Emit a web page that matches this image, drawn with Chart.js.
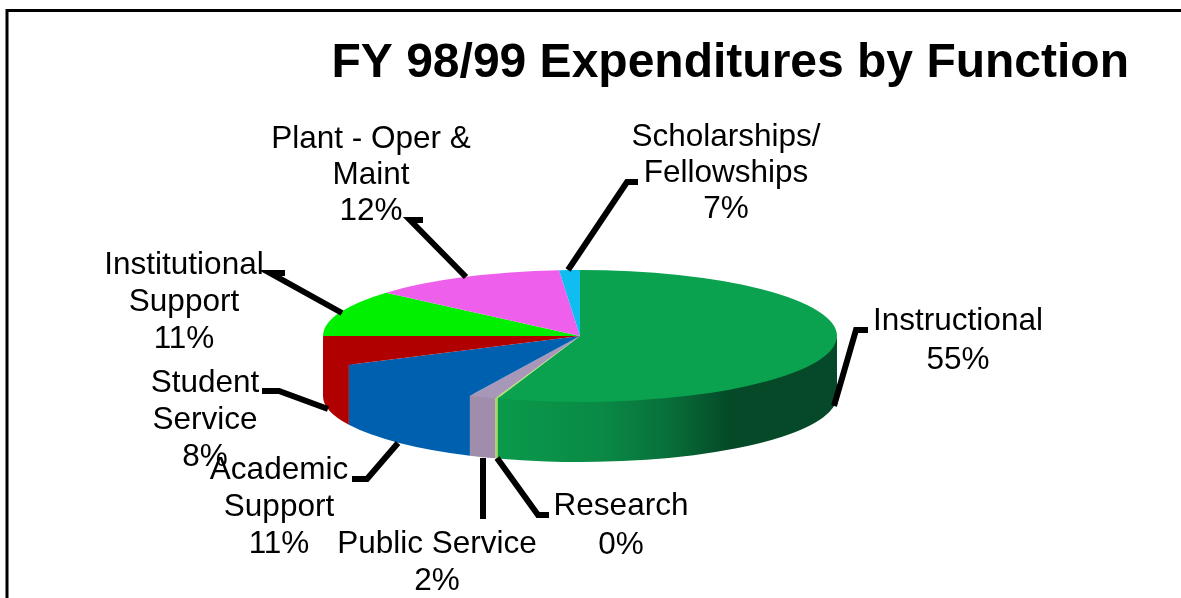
<!DOCTYPE html>
<html><head><meta charset="utf-8">
<style>html,body{margin:0;padding:0;background:#fff;overflow:hidden}#w{position:relative;width:1181px;height:598px}</style>
<script src="https://cdn.jsdelivr.net/npm/chart.js@4"></script>
</head><body><div id="w"><canvas id="c" width="1181" height="598"></canvas></div>
<script>
const titleText = "FY 98/99 Expenditures by Function";
const categories = ["Instructional","Research","Public Service","Academic Support","Student Service","Institutional Support","Plant - Oper & Maint","Scholarships/ Fellowships"];
// wedge sizes as drawn in the picture
const sliceValues = [55.2, 0.14, 1.7, 10.75, 7.2, 11.4, 12.3, 1.3];
// percentages as printed on the labels
const printedPercents = ["55%","0%","2%","11%","8%","11%","12%","7%"];
const labelLines = [["Instructional"],["Research"],["Public Service"],["Academic","Support"],["Student","Service"],["Institutional","Support"],["Plant - Oper &","Maint"],["Scholarships/","Fellowships"]];
const topColors = ["#0aa24e","#b4e05c","#a797b8","#0060b0","#b00000","#00f000","#ee60ec","#10bdf0"];
const wallColors = ["#0a9a4c","#a8d850","#a08cab","#0060b0","#b00000","#00c800","#c850c8","#10a0d0"];

const FONT = '"Liberation Sans", Arial, sans-serif';
const RX = 257, SQUASH = 66/257, DEPTH = 60;
// label anchor (centre x, first baseline) and leader polyline
const labelLayout = [
 {x:958,y:330,lh:39,leader:[[868,330],[856,330],[834,406]]},
 {x:621,y:515,lh:39,leader:[[549,515],[538,515],[497,458]]},
 {x:437,y:553,lh:37,leader:[[483,458],[483,519]]},
 {x:279,y:479,lh:37,leader:[[352,479],[367,479],[398,443]]},
 {x:205,y:392,lh:37,leader:[[262,391],[279,391],[328,409]]},
 {x:184,y:274,lh:37,leader:[[285,273],[270,273],[342,313]]},
 {x:371,y:148,lh:36,leader:[[423,220],[410,220],[466,277]]},
 {x:726,y:146,lh:36,leader:[[638,182],[627,182],[568,270]]}
];

const pie3d = {
  id:'pie3d',
  beforeDatasetsDraw(chart){
    const ctx = chart.ctx, arcs = chart.getDatasetMeta(0).data;
    const a0 = arcs[0];
    const cx = a0.x, cy = a0.y, r = a0.outerRadius, ry = r*SQUASH;
    ctx.save();
    arcs.forEach((arc,i)=>{
      let s = arc.startAngle, e = arc.endAngle;
      const s1 = Math.max(s,0), e1 = Math.min(e,Math.PI);
      if(e1<=s1) return;
      ctx.beginPath();
      ctx.ellipse(cx,cy-2,r,ry,0,s1,e1,false);
      ctx.ellipse(cx,cy+DEPTH,r,ry,0,e1,s1,true);
      ctx.closePath();
      if(i===0){
        const g = ctx.createLinearGradient(cx-83,0,cx+r,0);
        g.addColorStop(0,'#0a9a4c');g.addColorStop(0.3,'#0a8a45');g.addColorStop(0.5,'#08703a');
        g.addColorStop(0.68,'#054a28');g.addColorStop(1,'#05482a');
        ctx.fillStyle = g;
      } else ctx.fillStyle = wallColors[i];
      ctx.fill();
    });
    ctx.restore();
    ctx.save();
    ctx.translate(cx,cy);ctx.scale(1,SQUASH);ctx.translate(-cx,-cy);
  },
  afterDatasetsDraw(chart){
    const ctx = chart.ctx;
    ctx.restore();
    ctx.save();
    // frame
    ctx.strokeStyle='#000';ctx.lineWidth=3;
    ctx.beginPath();ctx.moveTo(7,598);ctx.lineTo(7,10.5);ctx.lineTo(1181,10.5);ctx.stroke();
    // leaders
    ctx.lineWidth=6;ctx.lineJoin='miter';ctx.lineCap='butt';
    labelLayout.forEach(l=>{
      ctx.beginPath();
      l.leader.forEach((p,k)=>k?ctx.lineTo(p[0],p[1]):ctx.moveTo(p[0],p[1]));
      ctx.stroke();
    });
    // labels
    ctx.fillStyle='#000';ctx.font='31.5px '+FONT;ctx.textAlign='center';ctx.textBaseline='middle';
    labelLayout.forEach((l,i)=>{
      const lines = labelLines[i].concat(printedPercents[i]);
      lines.forEach((t,k)=>ctx.fillText(t,l.x,l.y-9+k*l.lh));
    });
    ctx.restore();
  }
};

new Chart(document.getElementById('c'),{
  type:'pie',
  data:{labels:categories,datasets:[{data:sliceValues,backgroundColor:topColors,borderWidth:0,radius:RX,clip:false}]},
  options:{
    responsive:false,animation:false,
    layout:{padding:{left:31,right:52,top:10,bottom:18.6}},
    plugins:{
      legend:{display:false},tooltip:{enabled:false},
      title:{display:true,text:titleText,align:'end',color:'#000',
        font:{family:FONT,size:48,weight:'bold',lineHeight:1.2},padding:{top:25,bottom:0}}
    }
  },
  plugins:[pie3d]
});
</script></body></html>
